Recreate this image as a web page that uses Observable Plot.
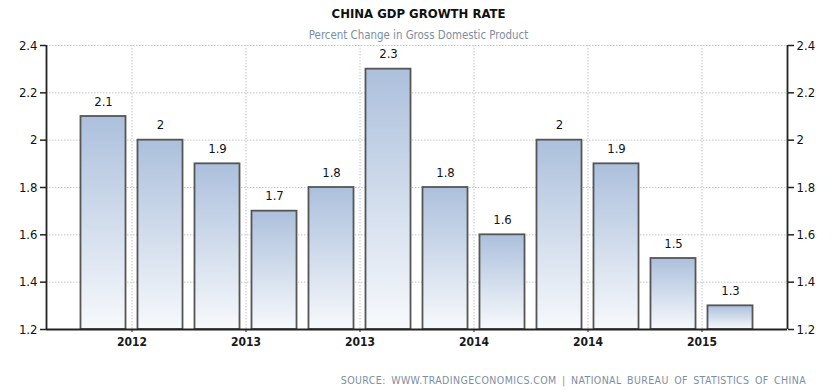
<!DOCTYPE html>
<html>
<head>
<meta charset="utf-8">
<script src="https://cdn.jsdelivr.net/npm/d3@7"></script>
<script src="https://cdn.jsdelivr.net/npm/@observablehq/plot@0.6"></script>
<style>
  html, body { margin: 0; padding: 0; background: #fff; }
  #wrap { position: relative; width: 837px; height: 392px; overflow: hidden; font-family: "DejaVu Sans Condensed", "DejaVu Sans", sans-serif; }
  #title { position: absolute; top: 6px; left: 0; width: 837px; text-align: center; font-weight: bold; font-size: 13px; color: #111; }
  #subtitle { position: absolute; top: 28px; left: 0; width: 837px; text-align: center; font-size: 11.4px; color: #7d8ea3; }
  #source { position: absolute; top: 374px; right: 31px; font-size: 10.5px; color: #7d8ea3; letter-spacing: 0.4px; word-spacing: 2px; }
  #chart { position: absolute; top: 0; left: 0; }
</style>
</head>
<body>
<div id="wrap">
  <div id="chart"></div>
  <div id="title">CHINA GDP GROWTH RATE</div>
  <div id="subtitle">Percent Change in Gross Domestic Product</div>
  <div id="source">SOURCE: WWW.TRADINGECONOMICS.COM | NATIONAL BUREAU OF STATISTICS OF CHINA</div>
</div>
<script>
// Quarterly GDP growth (QoQ, %)
const quarters = ["2012Q1","2012Q2","2012Q3","2012Q4","2013Q1","2013Q2","2013Q3","2013Q4","2014Q1","2014Q2","2014Q3","2014Q4"];
const growth = [2.1, 2.0, 1.9, 1.7, 1.8, 2.3, 1.8, 1.6, 2.0, 1.9, 1.5, 1.3];
const valueLabels = ["2.1","2","1.9","1.7","1.8","2.3","1.8","1.6","2","1.9","1.5","1.3"];
const xTickPos = [0.5, 2.5, 4.5, 6.5, 8.5, 10.5];
const xTickLabels = ["2012","2013","2013","2014","2014","2015"];
const yTicks = [1.2, 1.4, 1.6, 1.8, 2.0, 2.2, 2.4];

const data = quarters.map((q, i) => ({q, i, v: growth[i], label: valueLabels[i]}));
const half = 0.395;
const fmtY = d => String(+d.toFixed(1));

const plot = Plot.plot({
  width: 837,
  height: 392,
  marginLeft: 46,
  marginRight: 50,
  marginTop: 45,
  marginBottom: 63,
  style: {fontFamily: '"DejaVu Sans Condensed", "DejaVu Sans", sans-serif', background: "transparent", overflow: "visible"},
  x: {domain: [-1, 12], axis: null, label: null},
  y: {domain: [1.2, 2.4], axis: null, label: null},
  marks: [
    // grid
    Plot.gridY(yTicks, {stroke: "#c8c8c8", strokeOpacity: 1, strokeDasharray: "1.5,1.5"}),
    Plot.gridX(xTickPos, {stroke: "#c8c8c8", strokeOpacity: 1, strokeDasharray: "1.5,1.5"}),
    // bars
    Plot.rect(data, {x1: d => d.i - half, x2: d => d.i + half, y1: 1.2, y2: "v",
      fill: "url(#barGrad)", stroke: "#555", strokeWidth: 1.8}),
    Plot.text(data, {x: "i", y: "v", text: "label", dy: -15, fontSize: 13, fill: "#111122", fontWeight: "500"}),
    // axes
    Plot.axisY(yTicks, {anchor: "left", label: null, tickSize: 6, tickPadding: 3, tickFormat: fmtY, fontSize: 13, fill: "#111", stroke: "#222", strokeWidth: 1.5}),
    Plot.axisY(yTicks, {anchor: "right", label: null, tickSize: 6, tickPadding: 3, tickFormat: fmtY, fontSize: 13, fill: "#111", stroke: "#222", strokeWidth: 1.5}),
    Plot.axisX(xTickPos, {anchor: "bottom", label: null, tickSize: 3, tickPadding: 5, tickFormat: (d, k) => xTickLabels[k], fontSize: 12, fontWeight: "bold", fill: "#1a1a1a", stroke: "#222"}),
    Plot.ruleX([-1, 12], {y1: 1.2, y2: 2.4, stroke: "#222", strokeWidth: 1.8}),
    Plot.ruleY([1.2], {stroke: "#222", strokeWidth: 1.8})
  ]
});

const ns = "http://www.w3.org/2000/svg";
const defs = document.createElementNS(ns, "defs");
const grad = document.createElementNS(ns, "linearGradient");
grad.setAttribute("id", "barGrad");
grad.setAttribute("x1", "0"); grad.setAttribute("y1", "0");
grad.setAttribute("x2", "0"); grad.setAttribute("y2", "1");
[["0%", "#acc0dc"], ["100%", "#f7f9fc"]].forEach(([o, c]) => {
  const s = document.createElementNS(ns, "stop");
  s.setAttribute("offset", o); s.setAttribute("stop-color", c);
  grad.appendChild(s);
});
defs.appendChild(grad);
plot.insertBefore(defs, plot.firstChild);
document.getElementById("chart").appendChild(plot);
</script>
</body>
</html>
